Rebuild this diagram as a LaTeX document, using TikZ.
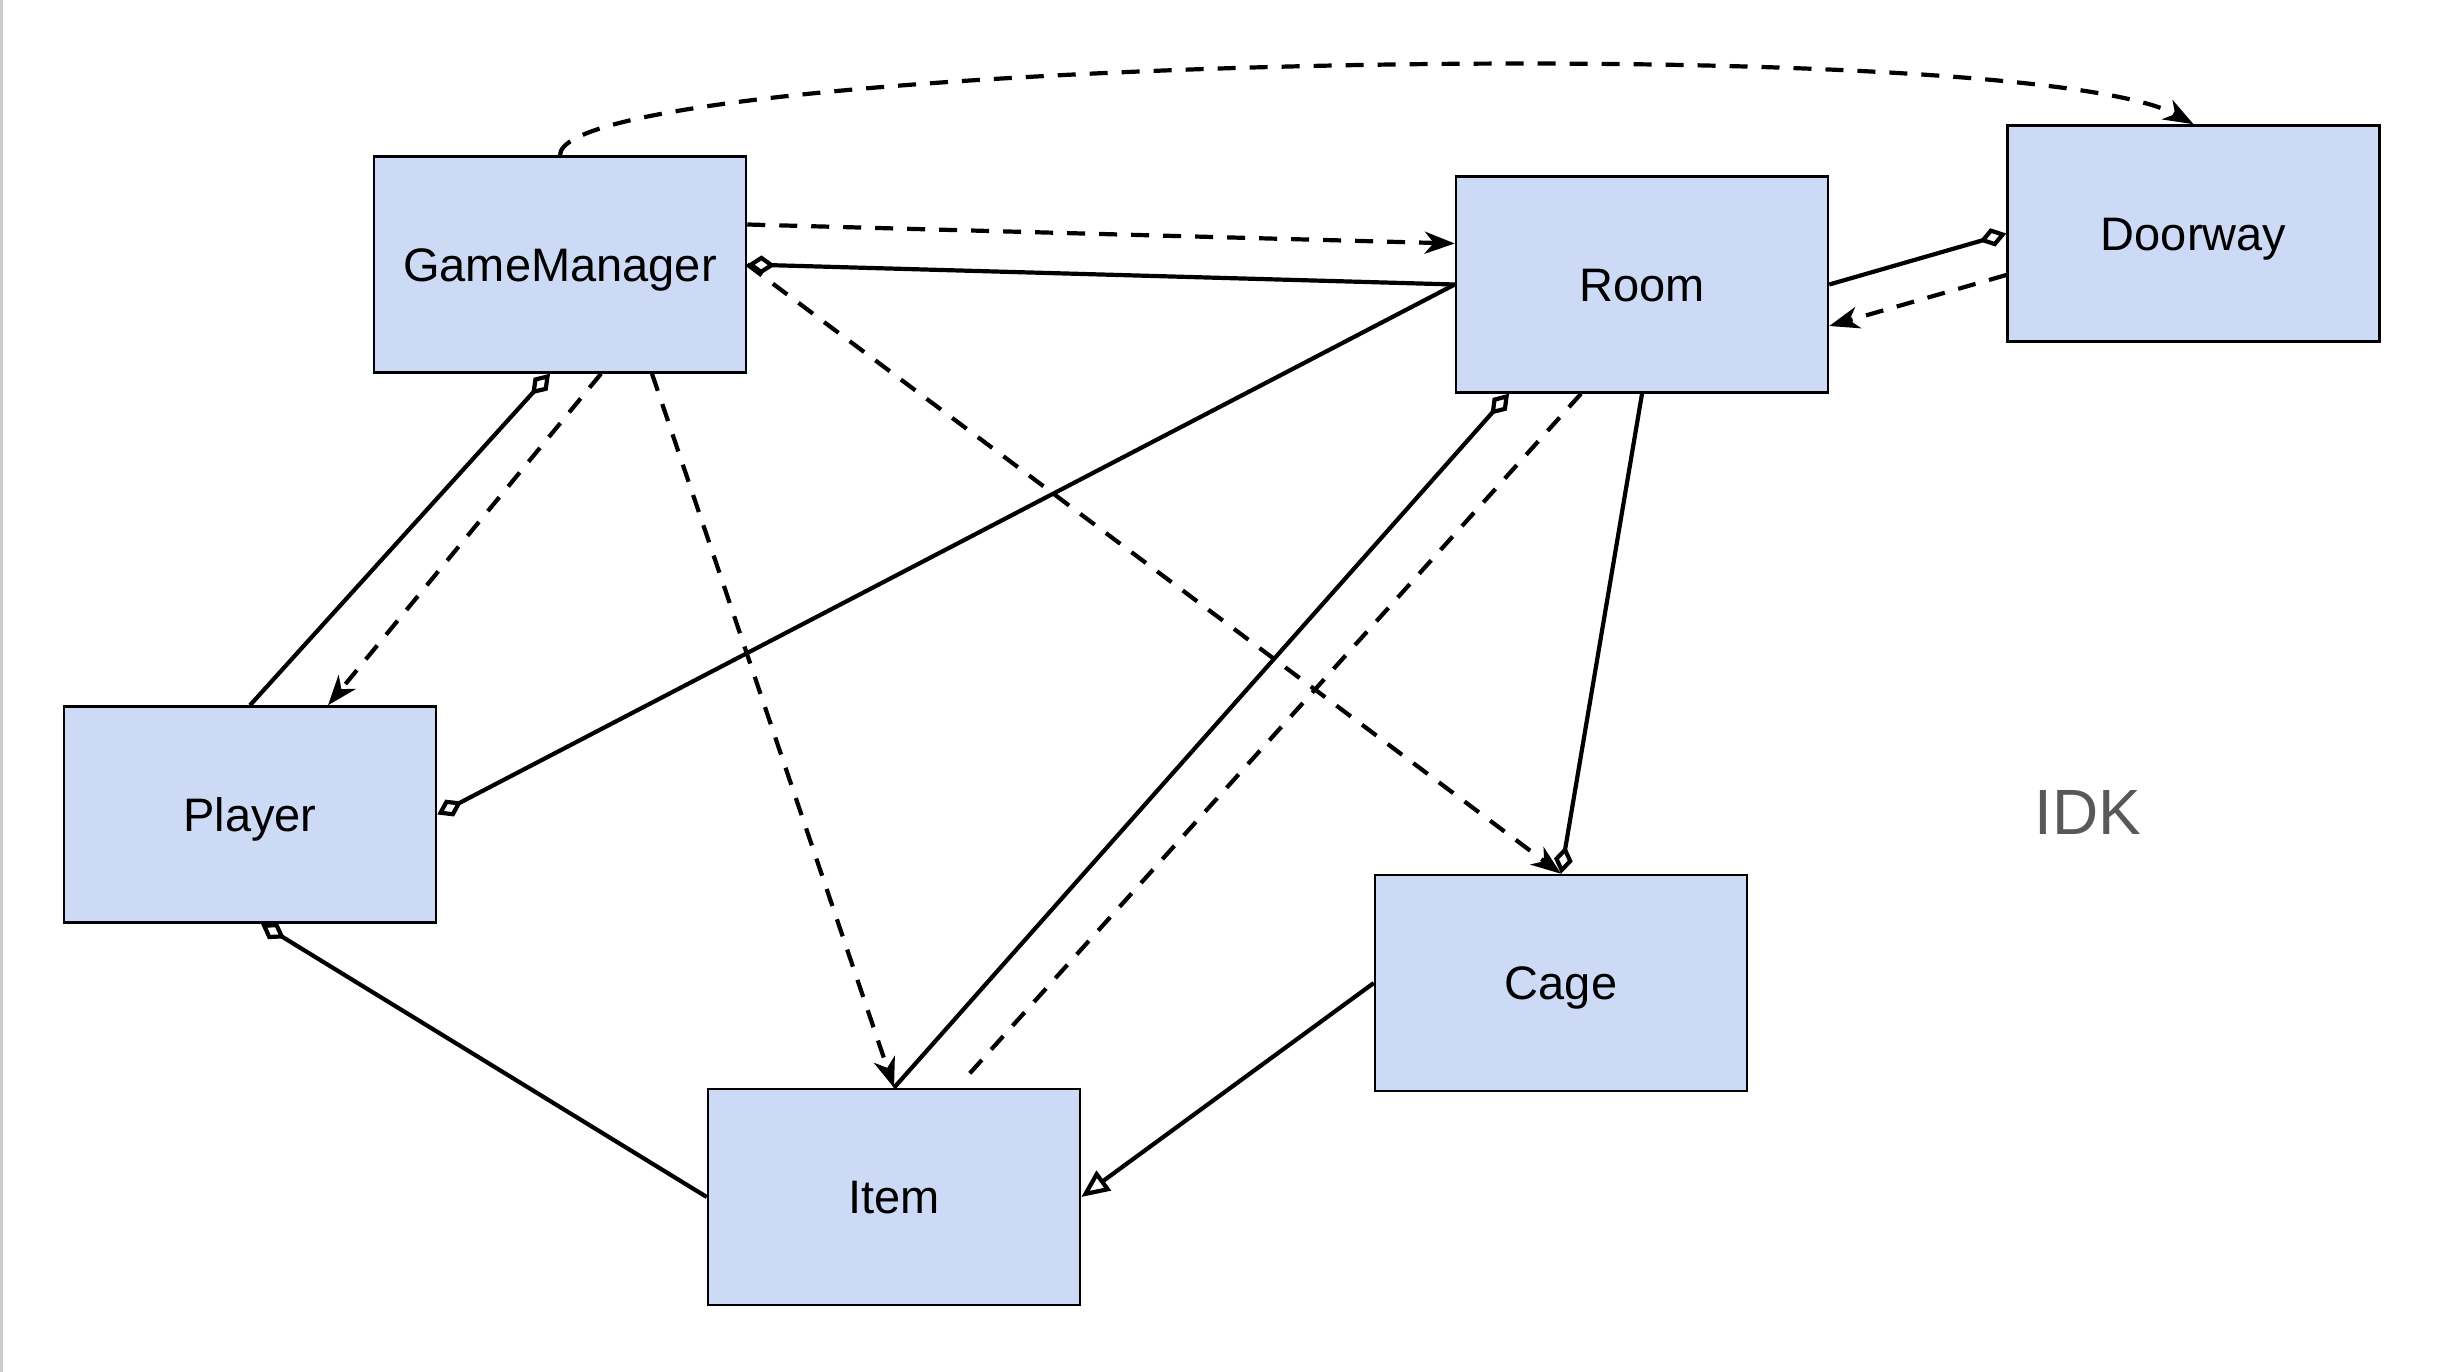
\documentclass[tikz,border=0pt]{standalone}
\usepackage{fontspec}
\setmainfont{Liberation Sans}
\usetikzlibrary{arrows.meta,calc}
\definecolor{boxfill}{RGB}{204,218,245}
\definecolor{idkgray}{RGB}{88,88,88}
\definecolor{edgegray}{RGB}{205,205,205}
\tikzset{
  diam/.tip={Diamond[open,length=28pt,width=19pt]},
  clsc/.tip={Stealth[length=30pt,width=22pt,inset=9pt]},
  opentri/.tip={Triangle[open,length=28pt,width=24pt]}
}
\begin{document}
\begin{tikzpicture}[x=1pt,y=-1pt,
  box/.style={draw=black,line width=2.5pt,fill=boxfill,minimum width=372pt,minimum height=216pt,inner sep=0pt,text height=33.7pt,text depth=0pt,font=\fontsize{47}{56}\selectfont},
  conn/.style={line width=4.2pt,draw=black},
  dsh/.style={dash pattern=on 18pt off 14pt},
  arr/.style={-clsc},
  lbl/.style={font=\fontsize{64}{76}\selectfont,text=idkgray,inner sep=0pt}
]
\useasboundingbox (0,0) rectangle (2448,1372);
\fill[edgegray] (0,0) rectangle (3,1372);

\node[box] (gm)     at (560,264.5)  {GameManager};
\node[box] (room)   at (1642,284.5) {Room};
\node[box] (door)   at (2193.5,233.5) {Doorway};
\node[box] (player) at (250,814.5)  {Player};
\node[box] (item)   at (894,1197)   {Item};
\node[box] (cage)   at (1561,983)   {Cage};
\node[lbl] (idk)    at (2088,812)   {IDK};

% top curve
\draw[conn,dsh,arr] (gm.north) .. controls (560,58) and (2020,28) .. (door.north);
% GameManager -> Room
\draw[conn,dsh,arr] ([yshift=40pt]gm.east) -- ([yshift=41pt]room.west);
\draw[conn,diam-] (gm.east) -- (room.west);
% GameManager -> Cage
\draw[conn,dsh,arr] (gm.east) -- (cage.north);
% GameManager -> Player
\draw[conn,diam-] ([xshift=-10pt]gm.south) -- (player.north);
\draw[conn,dsh,arr] ([xshift=41pt]gm.south) -- ([xshift=78pt]player.north);
% GameManager -> Item
\draw[conn,dsh,arr] ([xshift=92pt]gm.south) -- (item.north);
% Room -> Player
\draw[conn,-diam] (room.west) -- (player.east);
% Room -- Doorway
\draw[conn,-diam] (room.east) -- (door.west);
\draw[conn,dsh,arr] ([yshift=-41.5pt]door.west) -- ([yshift=-41.5pt]room.east);
% Room -> Item
\draw[conn,diam-] ([xshift=-133pt]room.south) -- (item.north);
\draw[conn,dsh] ([xshift=-61pt]room.south) -- ([xshift=70pt,yshift=8pt]item.north);
% Room -> Cage
\draw[conn,-diam] (room.south) -- (cage.north);
% Player -- Item
\draw[conn,diam-] ([xshift=11pt]player.south) -- (item.west);
% Cage -> Item
\draw[conn,-opentri] (cage.west) -- (item.east);
\end{tikzpicture}
\end{document}
